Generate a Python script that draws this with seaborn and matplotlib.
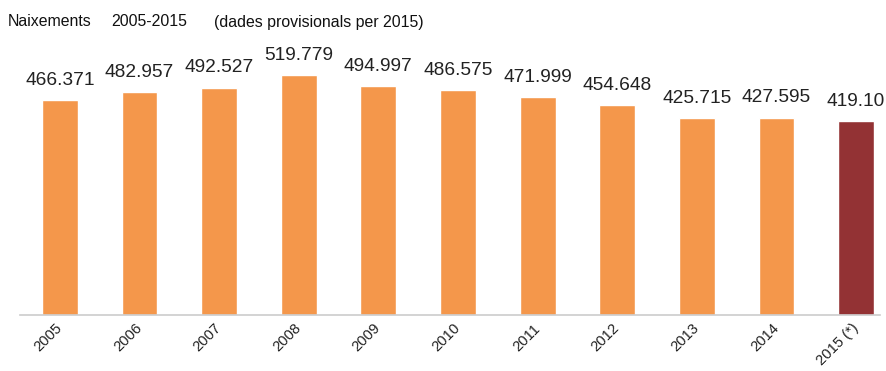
import matplotlib
matplotlib.use("Agg")
import matplotlib.pyplot as plt
import seaborn as sns
import pandas as pd

years = ["2005", "2006", "2007", "2008", "2009", "2010", "2011", "2012", "2013", "2014", "2015 (*)"]
births = [466.371, 482.957, 492.527, 519.779, 494.997, 486.575, 471.999, 454.648, 425.715, 427.595, 419.10]
value_labels = ["466.371", "482.957", "492.527", "519.779", "494.997", "486.575",
                "471.999", "454.648", "425.715", "427.595", "419.10"]
kind = ["final"] * 10 + ["provisional"]
title_parts = ["Naixements", "2005-2015", "(dades provisionals per 2015)"]

df = pd.DataFrame({"year": years, "births": births, "kind": kind})

sns.set_theme(style="white")
plt.rcParams["font.family"] = ["Liberation Sans", "DejaVu Sans"]

fig = plt.figure(figsize=(8.86, 3.71), dpi=100)
ax = fig.add_axes([20 / 886, 56 / 371, 860 / 886, 280 / 371])

palette = {"final": "#F4974B", "provisional": "#933234"}
sns.barplot(data=df, x="year", y="births", hue="kind", palette=palette,
            dodge=False, width=0.45, legend=False, ax=ax, saturation=1)

for i, (v, lab) in enumerate(zip(births, value_labels)):
    ax.annotate(lab, (i, v), xytext=(0, 8), textcoords="offset points",
                ha="center", va="bottom", fontsize=13.8, color="#222222")

ax.set_ylim(0, 519.779 * 280 / 240)
ax.set_xlim(-0.5, 10.3)
ax.set_xlabel("")
ax.set_ylabel("")
ax.set_yticks([])
for s in ["top", "right", "left"]:
    ax.spines[s].set_visible(False)
ax.spines["bottom"].set_color("#cccccc")
ax.spines["bottom"].set_linewidth(1.2)

ax.tick_params(axis="x", length=0, pad=8, labelsize=10.6, labelcolor="#222222")
for t in ax.get_xticklabels():
    t.set_rotation(45)
    t.set_ha("right")
    t.set_va("center")
    t.set_rotation_mode("anchor")

for x_px, part in zip([8, 111, 214], title_parts):
    fig.text(x_px / 886, 1 - 22 / 371, part,
             fontsize=11.4, va="center", ha="left", color="#111111")

fig.savefig("out.png", dpi=100, facecolor="white")
